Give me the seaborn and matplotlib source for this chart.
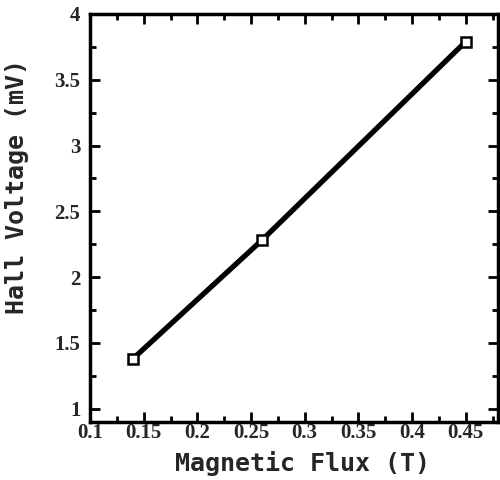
import matplotlib
matplotlib.use("Agg")
import matplotlib.pyplot as plt
import seaborn as sns
import pandas as pd
from matplotlib.ticker import MultipleLocator

flux = [0.14, 0.26, 0.45]
voltage = [1.38, 2.28, 3.79]
xticks = [0.1, 0.15, 0.2, 0.25, 0.3, 0.35, 0.4, 0.45]
yticks = [1, 1.5, 2, 2.5, 3, 3.5, 4]

df = pd.DataFrame({"flux": flux, "voltage": voltage})

sns.set_theme(style="white")
fig = plt.figure(figsize=(5, 4.8), dpi=100)
ax = fig.add_axes([0.18, 0.121, 0.816, 0.85])

sns.lineplot(data=df, x="flux", y="voltage", ax=ax, color="black", linewidth=3.8,
             marker="s", markersize=6.5, markerfacecolor="white",
             markeredgecolor="black", markeredgewidth=1.8)

ax.set_xlim(0.1, 0.48)
ax.set_ylim(0.9, 4.0)
ax.set_xticks(xticks)
ax.set_yticks(yticks)
ax.set_xticklabels([f"{v:g}" for v in xticks])
ax.set_yticklabels([f"{v:g}" for v in yticks])
ax.xaxis.set_minor_locator(MultipleLocator(0.025))
ax.yaxis.set_minor_locator(MultipleLocator(0.25))

ax.tick_params(which="both", direction="in", top=True, right=True,
               bottom=True, left=True, color="black")
ax.tick_params(which="major", length=7, width=2)
ax.tick_params(which="minor", length=4, width=2)
ax.tick_params(axis="both", labelsize=15)
ax.tick_params(axis="x", pad=1)
ax.tick_params(axis="y", pad=7)
for lab in ax.get_xticklabels() + ax.get_yticklabels():
    lab.set_fontfamily("Liberation Serif")
    lab.set_fontweight("bold")

for sp in ax.spines.values():
    sp.set_visible(True)
    sp.set_color("black")
    sp.set_linewidth(2.5)

ax.set_xlabel("Magnetic Flux (T)", fontsize=18, fontfamily="DejaVu Sans Mono",
              fontweight="bold")
ax.set_ylabel("Hall Voltage (mV)", fontsize=18, fontfamily="DejaVu Sans Mono",
              fontweight="bold")
ax.xaxis.set_label_coords(0.52, -0.071)
ax.yaxis.set_label_coords(-0.15, 0.578)

fig.savefig("out.png", dpi=100, facecolor="white")
